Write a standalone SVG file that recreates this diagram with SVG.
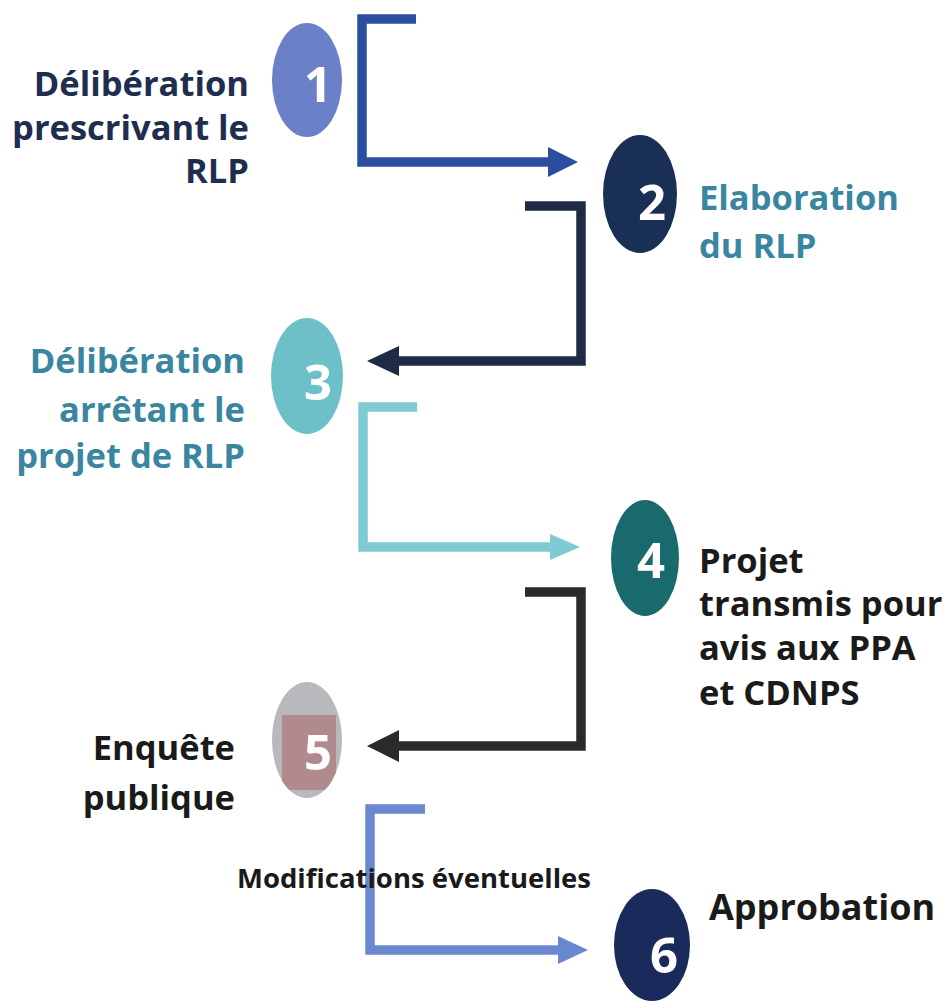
<svg xmlns="http://www.w3.org/2000/svg" width="949" height="1001" viewBox="0 0 949 1001">
  <defs>
    <style>
      .lbl { font-family: "Open Sans", "Liberation Sans", sans-serif; font-weight: 700; font-size: 34.5px; }
      .num { font-family: "Open Sans", "Liberation Sans", sans-serif; font-weight: 700; font-size: 49px; fill: #ffffff; text-anchor: middle; }
      .end { text-anchor: end; }
      .navy { fill: #1f2d4f; }
      .teal { fill: #3a86a0; }
      .dark { fill: #1a1a1a; }
      .link { fill: none; stroke-width: 9.5; stroke-linejoin: miter; stroke-linecap: butt; }
    </style>
    <marker id="head-blue" viewBox="0 0 30 30" markerUnits="userSpaceOnUse" markerWidth="30" markerHeight="30" refX="2" refY="15" orient="auto">
      <path d="M0,0 L30,15 L0,30 z" fill="#2b4f9f"/>
    </marker>
    <marker id="head-navy" viewBox="0 0 32 30" markerUnits="userSpaceOnUse" markerWidth="32" markerHeight="30" refX="2" refY="15" orient="auto">
      <path d="M0,0 L32,15 L0,30 z" fill="#1f2a44"/>
    </marker>
    <marker id="head-aqua" viewBox="0 0 30 26" markerUnits="userSpaceOnUse" markerWidth="30" markerHeight="26" refX="2" refY="13" orient="auto">
      <path d="M0,0 L30,13 L0,26 z" fill="#80cad4"/>
    </marker>
    <marker id="head-char" viewBox="0 0 32 32" markerUnits="userSpaceOnUse" markerWidth="32" markerHeight="32" refX="2" refY="16" orient="auto">
      <path d="M0,0 L32,16 L0,32 z" fill="#2a2a2a"/>
    </marker>
    <marker id="head-sky" viewBox="0 0 30 28" markerUnits="userSpaceOnUse" markerWidth="30" markerHeight="28" refX="2" refY="14" orient="auto">
      <path d="M0,0 L30,14 L0,28 z" fill="#6a88d0"/>
    </marker>
    <clipPath id="clip5">
      <ellipse cx="307" cy="740" rx="35" ry="58"/>
    </clipPath>
  </defs>

  <rect width="949" height="1001" fill="#ffffff"/>

  <!-- connectors -->
  <g id="connectors">
    <path class="link" stroke="#2b4f9f" d="M416,19 H362 V162 H550" marker-end="url(#head-blue)"/>
    <path class="link" stroke="#1f2a44" d="M525,206 H581 V361 H397" marker-end="url(#head-navy)"/>
    <path class="link" stroke="#80cad4" d="M417,407 H363 V547 H552" marker-end="url(#head-aqua)"/>
    <path class="link" stroke="#2a2a2a" d="M525,592 H581 V746 H397" marker-end="url(#head-char)"/>
    <path class="link" stroke="#6a88d0" d="M425,809 H370 V950 H560" marker-end="url(#head-sky)"/>
  </g>

  <!-- step 1 -->
  <g id="node1">
    <ellipse cx="307" cy="80" rx="35" ry="57" fill="#6a80c8"/>
    <text class="num" x="318" y="102">1</text>
    <text class="lbl navy end" x="249" y="96">Délibération</text>
    <text class="lbl navy end" x="249" y="140">prescrivant le</text>
    <text class="lbl navy end" x="249" y="183">RLP</text>
  </g>

  <!-- step 2 -->
  <g id="node2">
    <ellipse cx="640" cy="194" rx="37" ry="59" fill="#1a2f55"/>
    <text class="num" x="652" y="220">2</text>
    <text class="lbl teal" x="699" y="210">Elaboration</text>
    <text class="lbl teal" x="699" y="258">du RLP</text>
  </g>

  <!-- step 3 -->
  <g id="node3">
    <ellipse cx="307" cy="376" rx="36" ry="58" fill="#6dbfc8"/>
    <text class="num" x="318" y="400">3</text>
    <text class="lbl teal end" x="245" y="373">Délibération</text>
    <text class="lbl teal end" x="245" y="422">arrêtant le</text>
    <text class="lbl teal end" x="245" y="468">projet de RLP</text>
  </g>

  <!-- step 4 -->
  <g id="node4">
    <ellipse cx="645" cy="558" rx="34" ry="58" fill="#196a6c"/>
    <text class="num" x="651" y="578">4</text>
    <text class="lbl dark" x="699" y="573">Projet</text>
    <text class="lbl dark" x="699" y="616">transmis pour</text>
    <text class="lbl dark" x="699" y="660">avis aux PPA</text>
    <text class="lbl dark" x="699" y="705">et CDNPS</text>
  </g>

  <!-- step 5 -->
  <g id="node5">
    <ellipse cx="307" cy="740" rx="35" ry="58" fill="#b9b9bd"/>
    <rect x="282" y="715" width="54" height="75" fill="#b08a8c" clip-path="url(#clip5)"/>
    <text class="num" x="318" y="770">5</text>
    <text class="lbl dark end" x="235" y="760">Enquête</text>
    <text class="lbl dark end" x="235" y="810">publique</text>
  </g>

  <!-- optional changes note -->
  <g id="note">
    <text class="lbl dark" x="237" y="888" style="font-size:27.5px">Modifications éventuelles</text>
  </g>

  <!-- step 6 -->
  <g id="node6">
    <ellipse cx="652" cy="945" rx="38" ry="56" fill="#1a2a5a"/>
    <text class="num" x="664" y="973">6</text>
    <text class="lbl dark" x="709" y="920" style="font-size:36px">Approbation</text>
  </g>
</svg>
